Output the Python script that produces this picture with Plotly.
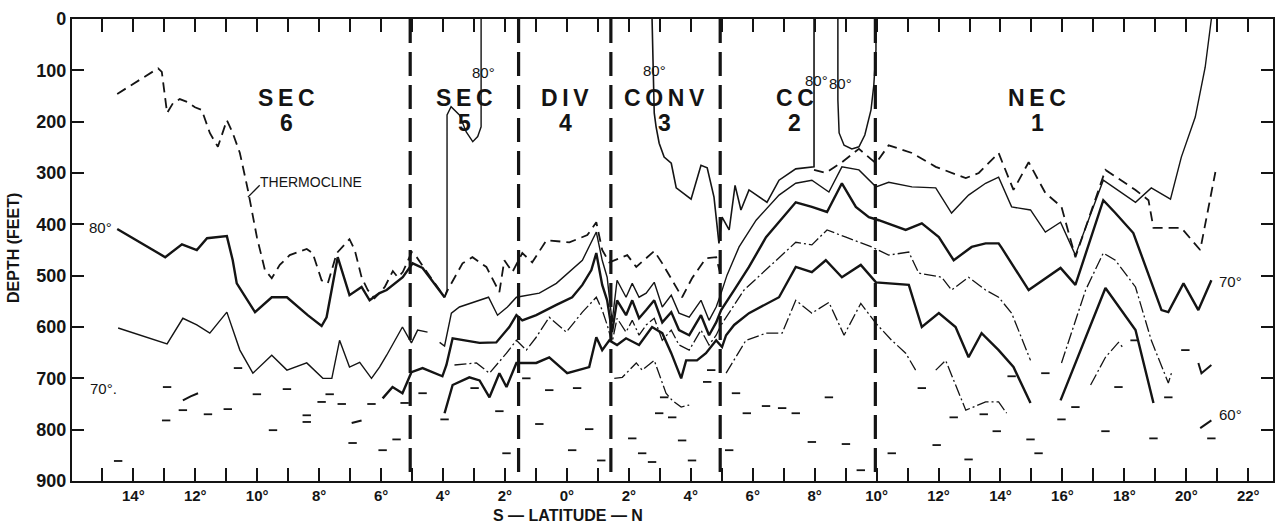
import plotly.graph_objects as go

# Latitude in degrees (south negative), depth in feet.

# Thermocline (dashed)
thermo_lat = [-14.52, -13.20, -13.08, -12.91, -12.72, -12.50, -12.24, -12.01, -11.79, -11.53,
              -11.27, -10.98, -10.79, -10.56, -10.30, -10.01, -9.75, -9.53, -9.27, -8.95,
              -8.40, -8.21, -7.92, -7.72, -7.43, -7.02, -6.85, -6.63, -6.43, -6.21,
              -5.88, -5.62, -5.46, -5.30, -5.01, -4.85, -4.60, -3.95,
              -3.85, -3.37, -3.05, -2.60, -2.18, -2.02, -1.76, -1.44, -1.12, -0.66,
              0.08, 0.66, 0.95, 1.14, 1.37, 1.95, 2.24, 2.82, 3.08, 3.72,
              4.04, 4.49, 4.82, 4.98, None,
              7.98, 8.36, 8.88, 9.43, 9.82, 9.98, 10.39, 11.14, 11.91, 12.88,
              13.30, 13.94, 14.42, 14.91, 15.45, 15.97, 16.42, 17.39, 18.36, 18.78,
              18.94, 19.84, 20.45, 20.94]
thermo_dep = [146, 96, 103, 183, 164, 156, 162, 172, 177, 222,
              249, 197, 222, 261, 333, 425, 489, 505, 479, 460,
              448, 456, 509, 515, 456, 429, 450, 503, 528, 544,
              522, 491, 503, 493, 454, 464, 486, 542,
              528, 476, 464, 483, 532, 470, 493, 456, 474, 431,
              435, 421, 396, 450, 474, 460, 483, 452, 476, 542,
              505, 466, 464, 503, None,
              294, 300, 279, 253, 273, 281, 246, 261, 288, 310,
              300, 261, 333, 279, 339, 366, 464, 294, 333, 353,
              407, 407, 450, 298]

# 80 degree isotherm: southern trough (heavy)
iso80_s_lat = [-14.52, -12.97, -12.43, -11.95, -11.62, -10.98, -10.79, -10.66, -10.07, -9.53,
               -9.04, -8.37, -7.92, -7.76, -7.40, -7.02, -6.63, -6.37, -6.05, -5.82,
               -5.30, -4.98, -4.66, -3.95]
iso80_s_dep = [409, 464, 439, 450, 427, 423, 470, 515, 571, 542,
               542, 577, 598, 581, 464, 538, 522, 548, 534, 528,
               503, 476, 485, 542]
# 80 degree isotherm rising to the surface in SEC 5
iso80_sec5_lat = [-3.95, -3.87, -3.87, -3.74, -3.47, -3.25, -3.04, -2.88, -2.77, -2.77, -2.77]
iso80_sec5_dep = [542, 528, 187, 171, 187, 220, 239, 229, 210, 158, 0]
# 80 degree isotherm from CONV to CC
iso80_conv_lat = [2.75, 2.82, 2.88, 2.98, 3.14, 3.37, 3.53, 4.01, 4.33, 4.53,
                  4.75, 4.91, 5.01, 5.24, 5.43, 5.62, 5.88, 6.14, 6.46, 6.85,
                  7.39, 7.98, 7.98]
iso80_conv_dep = [0, 183, 210, 242, 269, 281, 329, 351, 285, 290,
                  347, 437, 386, 411, 324, 372, 333, 343, 357, 314,
                  292, 288, 0]
# 80 degree pocket at the CC / NEC boundary
iso80_cc_lat = [8.75, 8.75, 8.79, 8.95, 9.20, 9.43, 9.62, 9.82, 9.91, 9.98, 9.98]
iso80_cc_dep = [0, 158, 222, 246, 253, 249, 226, 177, 129, 60, 0]

# Lower isotherms, top to bottom
iso_a_lat = [-14.49, -12.91, -12.40, -11.95, -11.53, -10.98, -10.56, -10.14, -9.53, -9.04,
             -8.40, -7.88, -7.59, -7.34, -7.02, -6.69, -6.31, -6.05, -5.82, -5.31,
             -5.02, -4.82, -4.50, None,
             -4.11, -3.95, -3.73, -3.47, -2.53, -2.24, -1.92, -1.63, -0.89, -0.34,
             0.50, 0.82, 0.95, 1.14, 1.30, 1.46, 1.62, 1.91, 2.11, 2.33,
             2.56, 2.82, 3.08, 3.37, 3.62, 3.95, 4.33, 4.59, 4.82, 4.98,
             5.17, 5.56, 6.11, 6.85, 7.39, 7.91, 8.46, 8.88, 9.43, 9.98,
             10.39, 11.14, 11.91, 12.42, 12.97, 13.52, 13.94, 14.36, 14.97, 15.45,
             15.94, 16.42, 17.32, 18.36, 18.87, 19.49, 19.84, 20.29, 20.61, 20.81]
iso_a_dep = [602, 633, 583, 596, 612, 571, 645, 690, 655, 684,
             670, 700, 700, 626, 678, 669, 700, 678, 655, 600,
             631, 606, 610, None,
             630, 637, 573, 561, 542, 577, 561, 542, 534, 515,
             470, 431, 415, 470, 503, 590, 509, 542, 515, 542,
             534, 513, 561, 538, 573, 581, 548, 587, 561, 534,
             499, 444, 392, 343, 320, 314, 337, 288, 294, 327,
             318, 327, 329, 378, 343, 320, 308, 366, 372, 415,
             396, 460, 314, 357, 329, 351, 269, 191, 94, 0]

iso_b_lat = [-5.95, -5.63, -5.31, -5.02, -4.66, -4.02, -3.89, -3.69, -2.82, -2.28,
             -1.86, -1.63, -1.44, -0.99, -0.34, 0.17, 0.50, 0.79, 0.95, 1.14,
             1.30, 1.46, 1.62, 1.91, 2.11, 2.33, 2.56, 2.82, 3.08, 3.37,
             3.62, 3.95, 4.33, 4.59, 4.82, 4.98, 5.40, 5.88, 6.43, 7.39,
             7.91, 8.40, 8.88, 9.33, 9.75, 10.07, 10.94, 11.46, 12.01, 12.49,
             13.07, 13.52, 13.94, 14.04, 14.91, 15.94, 16.42, 17.32, 17.71, 18.29,
             19.20, 19.42, 19.91, 20.39, 20.81]
iso_b_dep = [739, 717, 729, 688, 680, 696, 674, 622, 631, 630,
             600, 577, 587, 577, 557, 542, 518, 489, 456, 518,
             548, 610, 548, 577, 548, 583, 567, 548, 591, 571,
             606, 616, 577, 616, 591, 567, 528, 483, 425, 357,
             366, 376, 320, 366, 386, 392, 411, 398, 425, 470,
             444, 437, 437, 446, 528, 485, 518, 353, 378, 417,
             567, 571, 515, 567, 509]

iso_c_lat = [-3.63, -2.92, -2.50, -1.95, -1.63, -1.31, -0.99, -0.57, -0.02, 0.50,
             0.95, 1.14, 1.30, 1.46, 1.62, 1.91, 2.11, 2.33, 2.56, 2.82,
             3.08, 3.37, 3.62, 3.95, 4.33, 4.59, 4.82, 4.98, 5.72, 6.43,
             7.39, 7.91, 8.40, 9.01, 9.84, 10.39, 11.04, 11.36, 12.10, 12.42,
             12.97, 13.52, 13.94, 14.36, 14.97, None,
             15.97, 16.75, 17.32, 17.71, 18.36, 18.87, 19.42, 19.52]
iso_c_dep = [674, 670, 690, 651, 626, 645, 620, 581, 610, 571,
             542, 567, 596, 630, 583, 610, 587, 616, 596, 583,
             626, 606, 635, 645, 606, 635, 616, 596, 528, 489,
             435, 440, 411, 425, 444, 460, 454, 495, 503, 528,
             503, 528, 542, 573, 665, None,
             670, 528, 456, 470, 522, 626, 709, 690]

iso_d_lat = [-3.95, -3.69, -3.15, -2.82, -2.50, -2.18, -1.95, -1.63, -0.99, -0.57,
             0.01, 0.72, 0.95, 1.14, 1.37, 1.62, 1.91, 2.33, 2.75, 3.08,
             3.37, 3.69, 3.85, 4.20, 4.49, 4.82, 5.01, 5.14, 5.40, 5.88,
             6.85, 7.39, 7.91, 8.36, 8.88, 9.49, 9.98, 11.04, 11.46, 12.01,
             12.55, 12.97, 13.39, 13.94, 14.42, 14.97, None,
             15.94, 16.62, 17.39, 18.36, 18.94]
iso_d_dep = [768, 713, 698, 704, 737, 690, 717, 670, 670, 659,
             690, 678, 620, 645, 626, 635, 622, 635, 600, 612,
             651, 700, 665, 665, 651, 626, 639, 616, 596, 573,
             542, 483, 493, 470, 503, 479, 513, 518, 600, 573,
             600, 659, 612, 645, 678, 748, None,
             743, 639, 524, 606, 748]

iso_e_lat = [1.53, 1.79, 2.24, 2.43, 2.82, 3.20, 3.40, 3.69, 3.95, None,
             5.14, 5.78, 6.43, 6.95, 7.39, 7.91, 8.46, 8.95, 9.49, 9.98,
             10.49, 10.94, 11.26, None,
             11.91, 12.23, 12.88, 13.52, 13.94, 14.20, None,
             16.91, 17.39, 17.81, 17.97]
iso_e_dep = [700, 698, 670, 684, 665, 729, 743, 756, 752, None,
             690, 626, 612, 612, 548, 573, 552, 616, 554, 593,
             626, 651, 684, None,
             684, 665, 762, 746, 746, 768, None,
             713, 659, 630, 641]

# Short isotherm fragments
frag_lat = [-12.40, -12.15, -11.91, None, -6.95, -6.63, None, 20.39, 20.49, 20.81, None, 20.45, 20.81]
frag_dep = [743, 735, 729, None, 787, 782, None, 670, 690, 674, None, 797, 782]

# Isolated observation ticks
obs_lat = [-12.91, -12.94, -12.40, -11.59, -10.95, -10.62, -10.01, -9.04, -9.49, -8.40,
           -8.40, -7.92, -14.49, -7.66, -7.27, -6.31, -6.92, -5.95, -5.50, -5.24,
           -4.66, -3.95, -2.98, -2.18, -1.95, -1.31, -0.57, 0.33, -0.89, 0.72,
           0.17, 1.11, 2.11, 2.43, 3.14, 3.40, 2.98, 3.72, 4.53, 4.66,
           2.75, 4.04, 5.24, 5.46, 5.81, 6.43, 6.95, 7.39, 7.91, 8.46,
           9.01, 9.49, 10.49, 11.46, 11.94, 12.49, 12.97, 13.46, 13.88, 14.36,
           14.97, 15.23, 15.45, 15.97, 16.42, 17.39, 17.81, 18.33, 18.94, 19.42,
           19.97, 20.81]
obs_dep = [717, 782, 762, 770, 760, 680, 731, 721, 801, 772,
           785, 746, 861, 731, 750, 750, 826, 840, 819, 748,
           729, 780, 719, 764, 846, 700, 723, 719, 789, 799,
           840, 860, 817, 846, 737, 776, 768, 821, 707, 684,
           863, 860, 840, 729, 768, 754, 758, 768, 824, 737,
           828, 879, 846, 719, 830, 776, 858, 770, 803, 696,
           819, 846, 690, 780, 756, 803, 717, 626, 817, 737,
           645, 817]

# Current-zone boundaries and names
boundary_lat = [-5.06, -1.56, 1.42, 4.95, 9.96]
zone_names = ["S\u2009E\u2009C", "S\u2009E\u2009C", "D\u2009I\u2009V", "C\u2009O\u2009N\u2009V", "C\u2009C", "N\u2009E\u2009C"]
zone_numbers = ["6", "5", "4", "3", "2", "1"]
zone_lat = [-9.05, -3.30, -0.05, 3.14, 7.36, 15.18]

# Isotherm labels
temp_text = ["80°", "70°.", "80°", "80°", "80°", "80°", "70°", "60°"]
temp_lat = [-15.07, -14.97, -2.69, 2.82, 8.07, 8.85, 21.42, 21.42]
temp_dep = [407, 719, 105, 101, 119, 125, 511, 770]

depth_ticks = list(range(0, 1000, 100))
lat_ticks = list(range(-15, 23))
lat_labels = [f"{abs(v)}°" if v % 2 == 0 else "" for v in lat_ticks]

INK = "#141414"
FONT = "Liberation Sans, Arial, sans-serif"

fig = go.Figure()


def add_curve(lat, dep, width, dash="solid"):
    fig.add_trace(go.Scatter(
        x=lat, y=dep, mode="lines", connectgaps=False,
        line=dict(color=INK, width=width, dash=dash, shape="linear"),
        hoverinfo="skip", showlegend=False))


for b in boundary_lat:
    add_curve([b, b], [0, 900], 3.2, "24px,9px")

add_curve(thermo_lat, thermo_dep, 1.8, "10px,6px")
add_curve(iso80_s_lat, iso80_s_dep, 2.4)
add_curve(iso80_sec5_lat, iso80_sec5_dep, 1.4)
add_curve(iso80_conv_lat, iso80_conv_dep, 1.6)
add_curve(iso80_cc_lat, iso80_cc_dep, 1.5)
add_curve(iso_a_lat, iso_a_dep, 1.4)
add_curve(iso_b_lat, iso_b_dep, 2.4)
add_curve(iso_c_lat, iso_c_dep, 1.3, "12px,3px,2px,3px")
add_curve(iso_d_lat, iso_d_dep, 2.4)
add_curve(iso_e_lat, iso_e_dep, 1.3, "12px,3px,2px,3px")
add_curve(frag_lat, frag_dep, 2.0)
add_curve([-10.30, -9.92], [347, 324], 1.3)

fig.add_trace(go.Scatter(
    x=obs_lat, y=obs_dep, mode="markers", hoverinfo="skip", showlegend=False,
    marker=dict(symbol="line-ew", size=6, color=INK, line=dict(color=INK, width=1.8))))

for name, num, lat in zip(zone_names, zone_numbers, zone_lat):
    fig.add_annotation(x=lat, y=154, text=name, showarrow=False,
                       font=dict(family=FONT, size=23, color=INK, weight="bold"))
    fig.add_annotation(x=lat, y=203, text=num, showarrow=False,
                       font=dict(family=FONT, size=23, color=INK, weight="bold"))

for t, lat, dep in zip(temp_text, temp_lat, temp_dep):
    fig.add_annotation(x=lat, y=dep, text=t, showarrow=False,
                       font=dict(family=FONT, size=15, color=INK))

fig.add_annotation(x=-9.98, y=318, text="THERMOCLINE", showarrow=False, xanchor="left",
                   font=dict(family=FONT, size=14, color=INK))

fig.add_annotation(xref="paper", x=0, xanchor="center", xshift=-58, y=446, text="DEPTH (FEET)",
                   textangle=-90, showarrow=False,
                   font=dict(family=FONT, size=16, color=INK, weight="bold"))
fig.add_annotation(x=0.05, yref="paper", y=0, yanchor="middle", yshift=-34,
                   text="S \u2014 LATITUDE \u2014 N", showarrow=False,
                   font=dict(family=FONT, size=16, color=INK, weight="bold"))

fig.update_layout(
    width=1275, height=525,
    margin=dict(l=72, r=0, t=19, b=44),
    plot_bgcolor="white", paper_bgcolor="white",
    font=dict(family=FONT, color=INK),
    xaxis=dict(range=[-15.98, 22.80], tickvals=lat_ticks, ticktext=lat_labels,
               ticks="inside", ticklen=13, tickwidth=1.8, tickcolor=INK,
               showline=True, linewidth=2.4, linecolor=INK, mirror="ticks",
               showgrid=False, zeroline=False,
               tickfont=dict(family=FONT, size=15, color=INK, weight="bold")),
    yaxis=dict(range=[900, 0], tickvals=depth_ticks,
               ticks="inside", ticklen=12, tickwidth=1.8, tickcolor=INK,
               showline=True, linewidth=2.4, linecolor=INK, mirror="ticks",
               showgrid=False, zeroline=False,
               tickfont=dict(family=FONT, size=18, color=INK, weight="bold")),
)

fig.write_html("out.html")
